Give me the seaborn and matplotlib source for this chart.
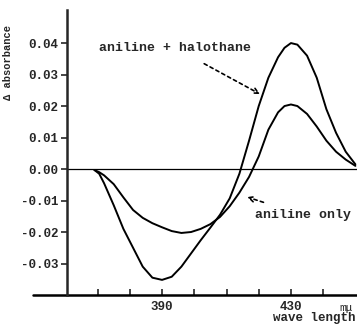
import numpy as np
import pandas as pd
import matplotlib
matplotlib.use('Agg')
import matplotlib.pyplot as plt
import seaborn as sns

# wavelength (m\u03bc) and difference absorbance
wavelength = [369, 370.5, 372, 375, 378, 381, 384, 387, 390, 393, 396, 399, 402, 405,
              408, 411, 414, 417, 420, 423, 426, 428, 430, 432, 435, 438, 441,
              444, 447, 450]
halothane = [-0.0003, -0.0015, -0.0045, -0.0115, -0.019, -0.025, -0.031, -0.0345, -0.0352,
             -0.0342, -0.031, -0.0268, -0.0226, -0.0186, -0.0145, -0.0093, -0.0015,
             0.009, 0.020, 0.029, 0.0355, 0.0385, 0.040, 0.0395, 0.036, 0.029,
             0.019, 0.0115, 0.0055, 0.0015]
aniline_only = [-0.0003, -0.001, -0.002, -0.0048, -0.009, -0.013, -0.0155, -0.0172, -0.0185,
                -0.0197, -0.0203, -0.0200, -0.019, -0.0175, -0.0152, -0.0118, -0.0075,
                -0.0025, 0.004, 0.0125, 0.018, 0.020, 0.0205, 0.020, 0.0175, 0.0135,
                0.009, 0.0055, 0.003, 0.001]

xticks = [370, 380, 390, 400, 410, 420, 430, 440]
xtick_labels = ["", "", "390", "", "", "", "430", ""]
yticks = [-0.03, -0.02, -0.01, 0.00, 0.01, 0.02, 0.03, 0.04]

df = pd.DataFrame({
    "wavelength": wavelength * 2,
    "absorbance": halothane + aniline_only,
    "sample": ["aniline + halothane"] * len(wavelength) + ["aniline only"] * len(wavelength),
})

sns.set_style("ticks")
plt.rcParams['font.family'] = ['Liberation Mono', 'DejaVu Sans']
plt.rcParams['axes.unicode_minus'] = False

fig = plt.figure(figsize=(3.57, 3.29), dpi=100)
ax = fig.add_axes([67 / 357, 1 - 295 / 329, 290 / 357, 285 / 329])

sns.lineplot(data=df, x="wavelength", y="absorbance", hue="sample",
             palette=["black", "black"], linewidth=1.4, legend=False, ax=ax)
ax.axhline(0, color="black", linewidth=0.9)

ax.set_xlim(360.5, 450.5)
ax.set_ylim(-0.04, 0.0505)

ax.set_xticks(xticks)
ax.set_xticklabels(xtick_labels, fontsize=9, fontweight="bold")
ax.set_yticks(yticks)
ax.set_yticklabels([f"{v:.2f}" for v in yticks], fontsize=9, fontweight="bold")
ax.tick_params(axis="x", direction="in", length=4, width=1.2, pad=4)
ax.tick_params(axis="y", direction="out", length=4, width=1.2, pad=2)

for side in ["top", "right", "bottom"]:
    ax.spines[side].set_visible(False)
ax.spines["left"].set_linewidth(1.8)
# bottom axis line runs out past the y axis
ax.plot([-0.117, 1.0], [0, 0], transform=ax.transAxes, color="black",
        linewidth=1.8, clip_on=False)

ax.set_xlabel("")
ax.set_ylabel("\u0394 absorbance", fontsize=7.5, fontweight="bold")
ax.yaxis.set_label_coords(-0.185, 0.815)

ax.text(447, -0.0425, "m\u03bc", fontsize=8, ha="center", va="top")
ax.text(0.995, -0.058, "wave length", transform=ax.transAxes, fontsize=9,
        fontweight="bold", ha="right", va="top")

ax.annotate("aniline + halothane", xy=(420.4, 0.0238), xytext=(394, 0.0385),
            fontsize=9.5, fontweight="bold", ha="center", va="center",
            arrowprops=dict(arrowstyle="->", linestyle=(0, (2, 2)), color="black",
                            linewidth=1.2, shrinkA=10, shrinkB=0))
ax.annotate("aniline only", xy=(416.4, -0.0089), xytext=(433.7, -0.0146),
            fontsize=9.5, fontweight="bold", ha="center", va="center",
            arrowprops=dict(arrowstyle="->", linestyle=(0, (2, 2)), color="black",
                            linewidth=1.2, shrinkA=8, shrinkB=0))

fig.savefig("out.png", dpi=100)
